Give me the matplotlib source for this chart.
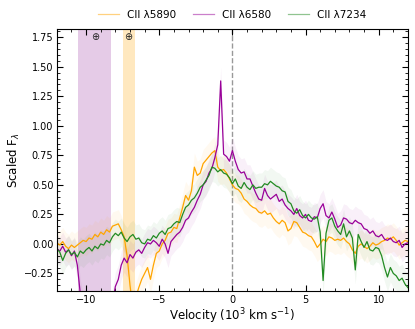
import numpy as np
import matplotlib
matplotlib.use("Agg")
import matplotlib.pyplot as plt
from matplotlib.ticker import MultipleLocator

# Velocity grid (10^3 km/s)
velocity = np.round(np.arange(-12.0, 12.0001, 0.2), 2)

flux_5890 = [
    0.01, -0.01, 0.02, -0.02, -0.04, -0.01, -0.03, -0.01, 0.01, 0.03,
    0.02, 0.05, 0.04, 0.08, 0.06, 0.10, 0.08, 0.12, 0.10, 0.15,
    0.16, 0.17, 0.12, 0.06, -0.10, -0.35, -0.55, -0.45, -0.37, -0.30,
    -0.25, -0.20, -0.30, -0.18, -0.08, -0.06, 0.00, 0.03, 0.09, 0.10,
    0.14, 0.13, 0.22, 0.31, 0.41, 0.37, 0.45, 0.65, 0.58, 0.60,
    0.68, 0.71, 0.74, 0.77, 0.79, 0.65, 0.62, 0.63, 0.60, 0.55,
    0.50, 0.47, 0.46, 0.43, 0.38, 0.36, 0.33, 0.31, 0.30, 0.27,
    0.26, 0.28, 0.25, 0.26, 0.22, 0.19, 0.17, 0.20, 0.18, 0.11,
    0.13, 0.19, 0.18, 0.14, 0.10, 0.09, 0.07, 0.06, 0.02, -0.03,
    0.00, 0.04, 0.02, 0.06, 0.05, 0.03, 0.04, 0.03, 0.05, 0.02,
    0.00, -0.05, -0.08, -0.02, 0.00, -0.02, -0.04, -0.02, 0.01, -0.01,
    0.00, 0.02, 0.03, 0.05, 0.04, 0.06, 0.03, -0.01, 0.01, 0.03,
    0.02,
]

flux_6580 = [
    -0.04, -0.06, -0.02, -0.07, -0.05, -0.10, -0.06, -0.18, -0.42, -0.55,
    -0.60, -0.60, -0.60, -0.60, -0.60, -0.60, -0.60, -0.60, -0.60, -0.50,
    -0.36, -0.30, -0.18, -0.12, -0.16, -0.09, -0.12, -0.07, -0.05, -0.08,
    -0.03, 0.01, 0.00, 0.03, 0.01, -0.02, 0.04, 0.00, -0.08, 0.02,
    0.05, 0.08, 0.10, 0.14, 0.20, 0.22, 0.27, 0.31, 0.37, 0.42,
    0.50, 0.53, 0.60, 0.64, 0.73, 0.84, 1.38, 0.76, 0.74, 0.70,
    0.79, 0.70, 0.63, 0.60, 0.61, 0.55, 0.55, 0.49, 0.43, 0.38,
    0.37, 0.47, 0.41, 0.38, 0.40, 0.42, 0.36, 0.38, 0.33, 0.30,
    0.28, 0.25, 0.30, 0.24, 0.22, 0.25, 0.20, 0.19, 0.23, 0.22,
    0.30, 0.34, 0.24, 0.22, 0.27, 0.21, 0.14, 0.16, 0.22, 0.21,
    0.18, 0.17, 0.20, 0.18, 0.17, 0.13, 0.12, 0.09, 0.11, 0.07,
    0.06, 0.08, 0.04, 0.03, 0.05, 0.02, 0.01, 0.03, -0.03, 0.00,
    0.01,
]

flux_7234 = [
    -0.04, -0.07, -0.14, -0.08, -0.05, -0.09, -0.07, -0.11, -0.06, -0.08,
    -0.05, -0.03, -0.06, -0.02, -0.04, 0.00, -0.01, 0.03, 0.01, 0.06,
    0.09, 0.07, 0.10, 0.05, 0.02, 0.06, 0.08, 0.04, 0.05, 0.01,
    0.00, 0.04, 0.03, 0.07, 0.05, 0.09, 0.11, 0.08, 0.13, 0.14,
    0.17, 0.19, 0.18, 0.25, 0.31, 0.33, 0.37, 0.39, 0.43, 0.48,
    0.50, 0.54, 0.58, 0.65, 0.64, 0.61, 0.63, 0.60, 0.59, 0.56,
    0.51, 0.55, 0.49, 0.47, 0.52, 0.48, 0.46, 0.50, 0.47, 0.48,
    0.48, 0.51, 0.50, 0.53, 0.51, 0.49, 0.48, 0.45, 0.44, 0.36,
    0.34, 0.28, 0.26, 0.29, 0.24, 0.22, 0.25, 0.22, 0.21, 0.23,
    0.10, -0.31, 0.09, 0.20, 0.22, 0.15, 0.11, 0.08, 0.17, 0.06,
    0.11, 0.05, -0.22, 0.08, 0.02, -0.03, 0.02, -0.05, -0.06, -0.03,
    -0.04, -0.10, -0.20, -0.28, -0.20, -0.25, -0.27, -0.31, -0.29, -0.34,
    -0.37,
]

# Typical per-series noise level (faint band)
sigma_5890 = 0.12
sigma_6580 = 0.12
sigma_7234 = 0.12

labels = ["CII \u03bb5890", "CII \u03bb6580", "CII \u03bb7234"]
colors = ["#FFA500", "#990099", "#228B22"]

# Telluric regions (velocity ranges) and marker positions
telluric_6580 = (-10.55, -8.3)
telluric_5890 = (-7.45, -6.65)
telluric_marks = [-9.4, -7.1]

fig = plt.figure(figsize=(4.15, 3.29), dpi=100)
ax = fig.add_axes([0.137, 0.115, 0.846, 0.797])

ax.axvspan(*telluric_6580, color="#9B30A0", alpha=0.25, lw=0)
ax.axvspan(*telluric_5890, color="#FFA500", alpha=0.25, lw=0)
for xm in telluric_marks:
    ax.text(xm, 1.75, "\u2295", ha="center", va="center", fontsize=7, color="#222222")

ax.axvline(0, color="#999999", ls="--", lw=1.0, zorder=1)

series = [flux_5890, flux_6580, flux_7234]
sigmas = [sigma_5890, sigma_6580, sigma_7234]
handles = []
for y, s, c, lab in zip(series, sigmas, colors, labels):
    y = np.array(y)
    ax.fill_between(velocity, y - s, y + s, color=c, alpha=0.06, lw=0)
    h, = ax.plot(velocity, y, color=c, lw=0.9, label=lab)
    handles.append(h)

ax.set_xlim(-12, 12)
ax.set_ylim(-0.40, 1.82)
ax.xaxis.set_major_locator(MultipleLocator(5))
ax.xaxis.set_minor_locator(MultipleLocator(1))
ax.yaxis.set_major_locator(MultipleLocator(0.25))
ax.yaxis.set_minor_locator(MultipleLocator(0.05))
ax.tick_params(which="both", direction="in", top=True, right=True, labelsize=7, pad=2.5)
ax.tick_params(which="major", length=4)
ax.tick_params(which="minor", length=2)

ax.set_xlabel("Velocity (10$^3$ km s$^{-1}$)", fontsize=8.5, labelpad=1)
ax.set_ylabel("Scaled F$_\\lambda$", fontsize=8.5, labelpad=1.5)

leg = ax.legend(handles=handles, loc="lower center", bbox_to_anchor=(0.5, 1.0),
                ncol=3, frameon=False, fontsize=7.5, handlelength=2.0,
                handletextpad=0.8, columnspacing=1.6)
for lh in leg.get_lines():
    lh.set_alpha(0.5)

fig.savefig("out.png", dpi=100)
